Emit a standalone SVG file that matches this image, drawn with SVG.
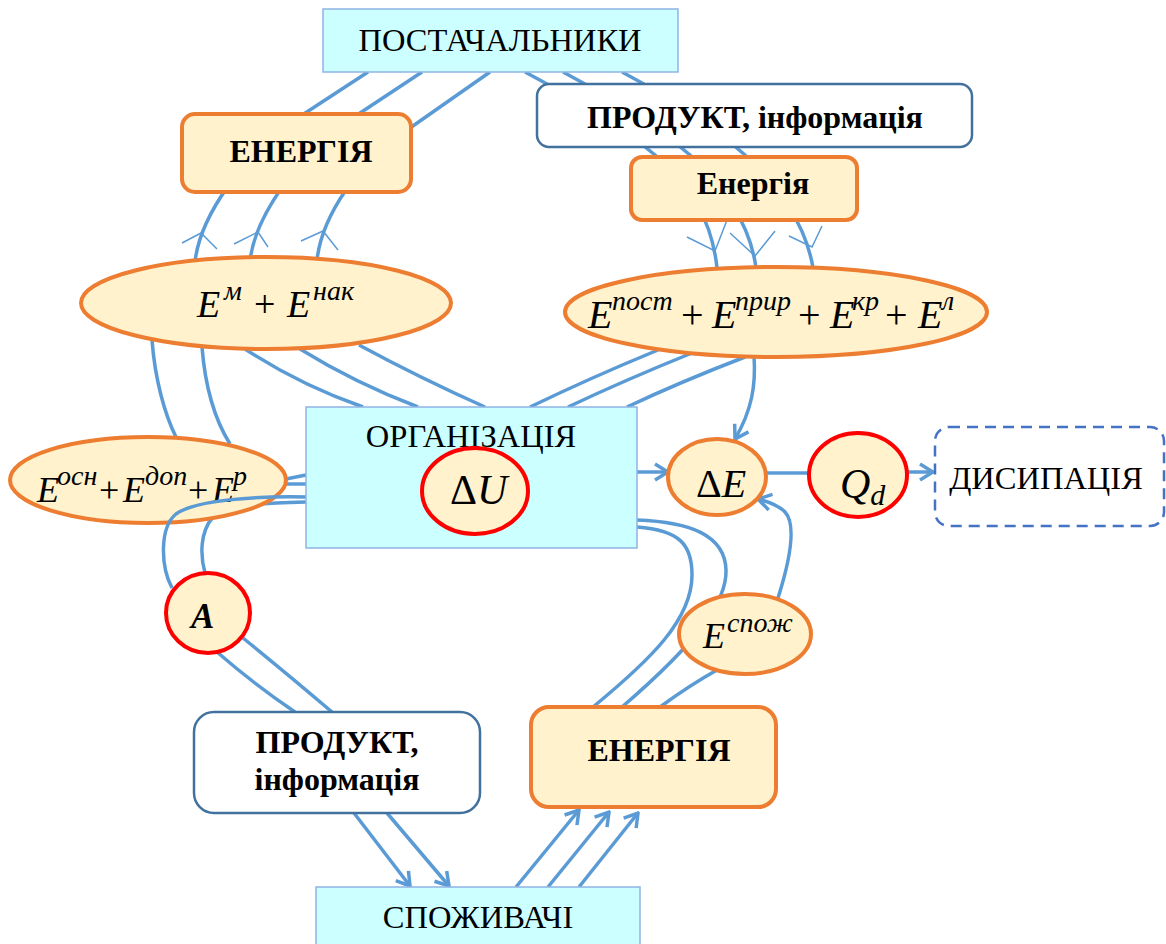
<svg xmlns="http://www.w3.org/2000/svg" width="1166" height="944" viewBox="0 0 1166 944">
  <defs>
    <style>
      .cy { fill:#CCFFFF; stroke:#8EB4E3; stroke-width:1.5; }
      .ob { fill:#FFF2CC; stroke:#ED7D31; stroke-width:4; }
      .wb { fill:#FFFFFF; stroke:#41719C; stroke-width:2.5; }
      .re { fill:#FFF2CC; stroke:#FF0000; stroke-width:4; }
      .ds { fill:#FFFFFF; stroke:#4472C4; stroke-width:2.5; stroke-dasharray:11 7; }
      .c  { fill:none; stroke:#5B9BD5; stroke-width:3.5; }
      .th { fill:none; stroke:#5B9BD5; stroke-width:1.5; }
      .lbl { font-family:"Liberation Serif","Times New Roman",serif; font-size:32.5px; fill:#000; }
      .b { font-weight:bold; font-size:32px; }
      .m { font-family:"Liberation Serif","Times New Roman",serif; fill:#000; }
      .i { font-style:italic; }
    </style>
    <marker id="open" viewBox="0 0 20 20" refX="18" refY="10" markerWidth="20" markerHeight="20" markerUnits="userSpaceOnUse" orient="auto">
      <path d="M5,2 L18,10 L5,18" fill="none" stroke="#5B9BD5" stroke-width="3.5"/>
    </marker>
  </defs>

  <!-- flows: drawn first so the boxes sit on top of them -->
  <g id="connectors">
    <!-- suppliers -> ЕНЕРГІЯ -> E^м + E^нак -->
    <path class="c" d="M368,72 L290,123 C245,155 200,215 195,262"/>
    <path class="c" d="M422,72 L345,123 C300,155 255,215 250,261"/>
    <path class="c" d="M490,72 L400,135 C360,162 322,215 317,260"/>
    <path class="th" d="M182,243 L201,233 L217,249"/>
    <path class="th" d="M234,244 L258,232 L268,247"/>
    <path class="th" d="M301,241 L323,231 L338,250"/>

    <!-- suppliers -> ПРОДУКТ -> Енергія -> E^пост ... -->
    <path class="c" d="M525,72 C570,96 620,125 655,155 C690,185 712,220 717,268"/>
    <path class="c" d="M563,72 C608,96 655,125 690,155 C722,185 750,222 756,268"/>
    <path class="c" d="M622,72 C667,96 708,122 745,155 C778,185 806,225 813,268"/>
    <path class="th" d="M687,237 L715,251 L727,220"/>
    <path class="th" d="M730,233 L755,256 L775,231"/>
    <path class="th" d="M789,236 L812,247 L822,226"/>

    <!-- E^м + E^нак -> organisation -->
    <path class="c" d="M245,349 Q300,385 363,407"/>
    <path class="c" d="M300,349 Q355,383 418,407"/>
    <path class="c" d="M359,345 Q420,378 485,407"/>

    <!-- E^м + E^нак -> E^осн + ... -->
    <path class="c" d="M152,340 C155,380 165,415 176,437"/>
    <path class="c" d="M202,347 C205,385 215,420 230,444"/>

    <!-- E^осн ... <-> organisation -->
    <path class="c" d="M286,479 L306,475"/>
    <path class="c" d="M286,484 L306,484"/>

    <!-- organisation -> A (runs behind the ellipse) -->
    <path class="c" d="M306,502 C262,503 225,505 213,517 C200,532 200,555 205,573"/>

    <!-- A -> product -->
    <path class="c" d="M217,652 Q255,685 295,712"/>
    <path class="c" d="M243,638 Q285,672 332,712"/>

    <!-- product -> consumers -->
    <path class="c" d="M354,813 L410,886" marker-end="url(#open)"/>
    <path class="c" d="M387,813 L449,886" marker-end="url(#open)"/>

    <!-- consumers -> energy -->
    <path class="c" d="M516,887 L579,810" marker-end="url(#open)"/>
    <path class="c" d="M548,887 L609,812" marker-end="url(#open)"/>
    <path class="c" d="M579,887 L638,813" marker-end="url(#open)"/>

    <!-- E^пост ... -> organisation -->
    <path class="c" d="M658,350 Q590,378 530,407"/>
    <path class="c" d="M692,353 Q625,380 568,407"/>
    <path class="c" d="M745,357 Q680,382 627,407"/>

    <!-- E^пост ... -> ΔE -->
    <path class="c" d="M754,356 C756,385 752,410 735,439" marker-end="url(#open)"/>

    <!-- organisation -> ΔE -> Q_d -> dissipation -->
    <path class="c" d="M637,472 L668,472" marker-end="url(#open)"/>
    <path class="c" d="M766,473 L809,473"/>
    <path class="c" d="M906,472 L933,472" marker-end="url(#open)"/>

    <!-- E^спож -> ΔE -->
    <path class="c" d="M778,598 C790,560 797,525 785,512 C778,505 770,502 758,499" marker-end="url(#open)"/>

    <!-- organisation -> energy (bottom) -->
    <path class="c" d="M637,520 C690,522 725,535 726,570 C727,600 700,640 622,707"/>
    <path class="c" d="M637,527 C680,530 692,545 692,575 C692,620 650,660 593,707"/>
    <path class="c" d="M717,670 Q690,685 660,707"/>
  </g>

  <g id="suppliers">
    <rect class="cy" x="323" y="9" width="355" height="63"/>
    <text class="lbl" x="500" y="51" text-anchor="middle">ПОСТАЧАЛЬНИКИ</text>
  </g>

  <g id="energy-top">
    <rect class="ob" x="182" y="114" width="229" height="78" rx="13"/>
    <text class="lbl b" x="301" y="162" text-anchor="middle">ЕНЕРГІЯ</text>
  </g>

  <g id="product-top">
    <rect class="wb" x="537" y="84" width="435" height="63" rx="12"/>
    <text class="lbl b" x="755" y="128" text-anchor="middle">ПРОДУКТ, інформація</text>
  </g>

  <g id="energy-small">
    <rect class="ob" x="631" y="157" width="226" height="63" rx="11"/>
    <text class="lbl b" x="753" y="194" text-anchor="middle">Енергія</text>
  </g>

  <g id="e-m-nak">
    <ellipse class="ob" cx="266" cy="303" rx="185" ry="46"/>
    <text class="m" y="317" font-size="38"><tspan class="i" x="197">E</tspan><tspan class="i" x="224" y="300" font-size="28">м</tspan><tspan x="254" y="317">+</tspan><tspan class="i" x="287">E</tspan><tspan class="i" x="313" y="300" font-size="28">нак</tspan></text>
  </g>

  <g id="e-post">
    <ellipse class="ob" cx="776" cy="312" rx="211" ry="45"/>
    <text class="m" y="328" font-size="40"><tspan class="i" x="588">E</tspan><tspan class="i" x="612" y="310" font-size="28">пост</tspan><tspan x="681" y="328">+</tspan><tspan class="i" x="712">E</tspan><tspan class="i" x="735" y="310" font-size="28">прир</tspan><tspan x="798" y="328">+</tspan><tspan class="i" x="830">E</tspan><tspan class="i" x="852" y="310" font-size="28">кр</tspan><tspan x="885" y="328">+</tspan><tspan class="i" x="918">E</tspan><tspan class="i" x="942" y="310" font-size="28">л</tspan></text>
  </g>

  <g id="e-osn">
    <ellipse class="ob" cx="148" cy="480" rx="138" ry="43"/>
    <text class="m" y="502" font-size="36"><tspan class="i" x="37">E</tspan><tspan class="i" x="57" y="485" font-size="28">осн</tspan><tspan x="99" y="502">+</tspan><tspan class="i" x="123">E</tspan><tspan class="i" x="145" y="485" font-size="28">доп</tspan><tspan x="188" y="502">+</tspan><tspan class="i" x="212">E</tspan><tspan class="i" x="233" y="485" font-size="28">р</tspan></text>
  </g>

  <!-- the upper flow to A passes over the ellipse -->
  <g id="connectors-front">
    <path class="c" d="M306,497 C255,496 195,500 176,514 C160,527 160,565 172,588"/>
  </g>

  <g id="organisation">
    <rect class="cy" x="306" y="407" width="331" height="141"/>
    <text class="lbl" x="471" y="447" text-anchor="middle">ОРГАНІЗАЦІЯ</text>
  </g>

  <g id="delta-u">
    <ellipse class="re" cx="475" cy="491" rx="53" ry="43"/>
    <text class="m" x="450" y="504" font-size="42">Δ<tspan class="i">U</tspan></text>
  </g>

  <g id="delta-e">
    <ellipse class="ob" cx="717" cy="477" rx="49" ry="38"/>
    <text class="m" x="696" y="497" font-size="40">Δ<tspan class="i">E</tspan></text>
  </g>

  <g id="q-d">
    <ellipse class="re" cx="858" cy="475" rx="49" ry="42"/>
    <text class="m i" x="840" y="498" font-size="42">Q<tspan y="505" font-size="30">d</tspan></text>
  </g>

  <g id="dissipation">
    <rect class="ds" x="935" y="427" width="229" height="99" rx="14"/>
    <text class="lbl" x="1046" y="489" text-anchor="middle">ДИСИПАЦІЯ</text>
  </g>

  <g id="a-work">
    <ellipse class="re" cx="208" cy="613" rx="42" ry="40"/>
    <text class="m i" x="191" y="628" font-size="35" font-weight="bold">A</text>
  </g>

  <g id="e-spozh">
    <ellipse class="ob" cx="745" cy="634" rx="66" ry="40"/>
    <text class="m i" y="648" font-size="36"><tspan x="703">E</tspan><tspan x="727" y="632" font-size="28">спож</tspan></text>
  </g>

  <g id="product-bottom">
    <rect class="wb" x="194" y="712" width="286" height="101" rx="20"/>
    <text class="lbl b" x="337" y="753" text-anchor="middle">ПРОДУКТ,</text>
    <text class="lbl b" x="337" y="790" text-anchor="middle">інформація</text>
  </g>

  <g id="energy-bottom">
    <rect class="ob" x="531" y="707" width="245" height="100" rx="18"/>
    <text class="lbl b" x="659" y="761" text-anchor="middle">ЕНЕРГІЯ</text>
  </g>

  <g id="consumers">
    <rect class="cy" x="316" y="887" width="324" height="70"/>
    <text class="lbl" x="478" y="928" text-anchor="middle">СПОЖИВАЧІ</text>
  </g>
</svg>
